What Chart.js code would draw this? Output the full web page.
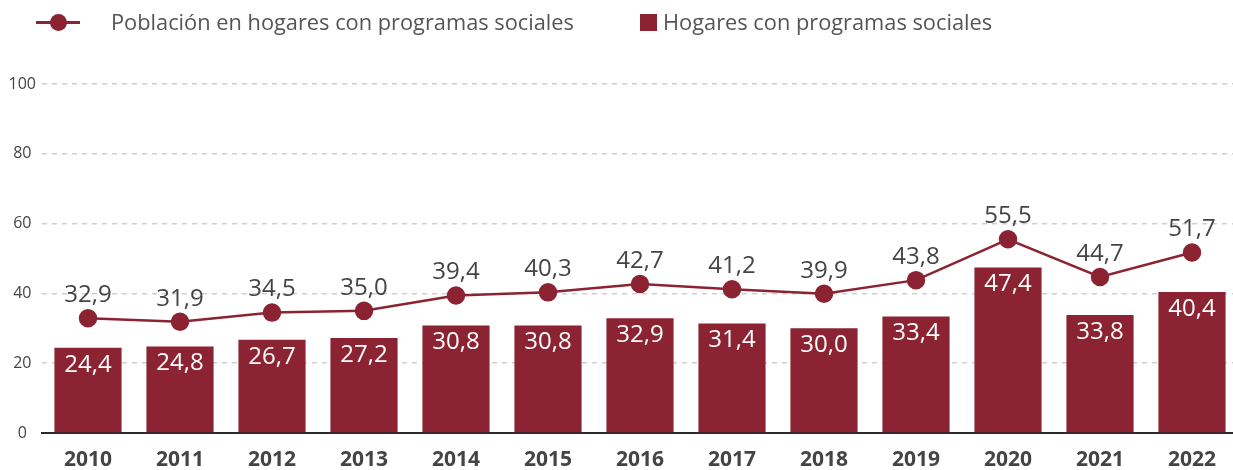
<!DOCTYPE html>
<html>
<head>
<meta charset="utf-8">
<script src="https://cdn.jsdelivr.net/npm/chart.js@4.4.1/dist/chart.umd.min.js"></script>
<style>
  body { margin:0; background:#fff; font-family:"Open Sans", sans-serif; }
  #wrap { position:relative; width:1233px; height:470px; overflow:hidden; }
  #wrap canvas { position:absolute; left:0; top:0; }
  .legend { position:absolute; top:7px; left:0; height:30px; font-size:21.8px; color:#555; }
  .legend span { position:absolute; white-space:nowrap; top:0; line-height:30px; }
  .mk-line { position:absolute; left:36px; top:14px; width:44px; height:3px; background:#8b2332; }
  .mk-dot { position:absolute; left:50px; top:7px; width:17px; height:17px; border-radius:50%; background:#8b2332; }
  .mk-box { position:absolute; left:640px; top:7px; width:17px; height:17px; background:#8b2332; }
</style>
</head>
<body>
<div id="wrap">
  <!-- el area del grafico se sale un poco por la derecha, como en el original -->
  <canvas id="chart" width="1238" height="470"></canvas>
  <div class="legend">
    <div class="mk-line"></div><div class="mk-dot"></div>
    <span style="left:111px">Población en hogares con programas sociales</span>
    <div class="mk-box"></div>
    <span style="left:663px">Hogares con programas sociales</span>
  </div>
</div>
<script>
// DATOS
const years = ['2010','2011','2012','2013','2014','2015','2016','2017','2018','2019','2020','2021','2022'];
const poblacion = [32.9,31.9,34.5,35.0,39.4,40.3,42.7,41.2,39.9,43.8,55.5,44.7,51.7];
const hogares = [24.4,24.8,26.7,27.2,30.8,30.8,32.9,31.4,30.0,33.4,47.4,33.8,40.4];
const yTicks = [0,20,40,60,80,100];

const vino = '#8b2332';
const fmt = v => v.toFixed(1).replace('.', ',');

// ETIQUETAS DE VALORES
const valueLabels = {
    id: 'valueLabels',
    afterDatasetsDraw(chart){
        const c = chart.ctx;
        c.save();
        c.font = '24px "Open Sans"';
        c.textAlign = 'center';
        c.textBaseline = 'middle';
        // barras
        c.fillStyle = '#ffffff';
        chart.getDatasetMeta(1).data.forEach((bar, i) => {
            c.fillText(fmt(hogares[i]), bar.x, bar.y + 17);
        });
        // linea
        c.fillStyle = '#444';
        chart.getDatasetMeta(0).data.forEach((pt, i) => {
            c.fillText(fmt(poblacion[i]), pt.x, pt.y - 23);
        });
        c.restore();
    }
};

new Chart(document.getElementById('chart'), {
    data: {
        labels: years,
        datasets: [
            {
                type: 'line',
                label: 'Población en hogares con programas sociales',
                data: poblacion,
                borderColor: vino,
                backgroundColor: vino,
                borderWidth: 2.5,
                pointRadius: 8,
                pointHoverRadius: 8,
                tension: 0,
                order: 0
            },
            {
                type: 'bar',
                label: 'Hogares con programas sociales',
                data: hogares,
                backgroundColor: vino,
                barPercentage: 0.73,
                categoryPercentage: 1,
                order: 1
            }
        ]
    },
    options: {
        responsive: false,
        animation: false,
        layout: { autoPadding: false, padding: { top: 84, right: 0, left: 0, bottom: 0 } },
        plugins: {
            legend: { display: false },
            tooltip: { enabled: false }
        },
        scales: {
            x: {
                afterFit: s => { s.height = 37; },
                grid: { display: false, drawTicks: false },
                border: { display: true, color: '#2a2a2a', width: 2 },
                ticks: {
                    color: '#444',
                    padding: 17,
                    font: { family: 'Open Sans', size: 21, weight: 'bold', lineHeight: 1 }
                }
            },
            y: {
                min: 0,
                max: 100,
                afterFit: s => { s.width = 42; },
                afterBuildTicks: s => { s.ticks = yTicks.map(v => ({ value: v })); },
                border: { display: false, dash: [5, 5] },
                grid: { color: '#cfcfcf', lineWidth: 1.5, drawTicks: false },
                ticks: {
                    color: '#444',
                    padding: 6,
                    crossAlign: 'center',
                    font: { family: 'Open Sans', size: 16 }
                }
            }
        }
    },
    plugins: [valueLabels]
});
</script>
</body>
</html>
